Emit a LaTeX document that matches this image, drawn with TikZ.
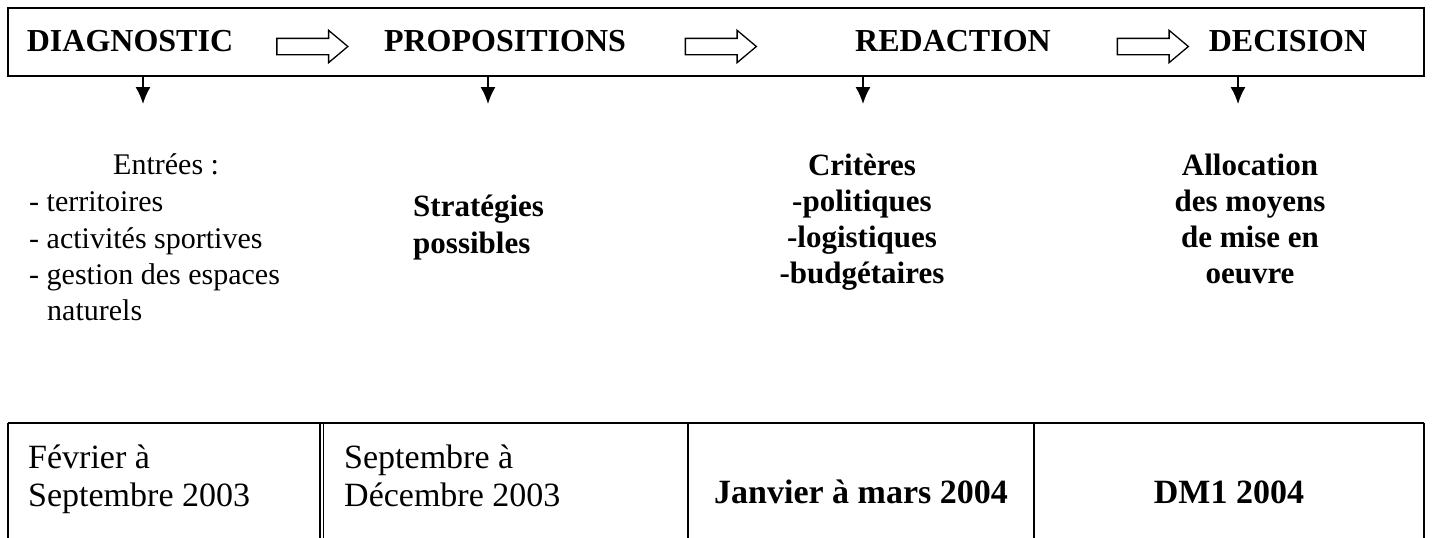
\documentclass[tikz,border=0pt]{standalone}
\usepackage{fontspec}
\setmainfont{Liberation Serif}
\usetikzlibrary{arrows.meta, shapes.arrows}

\begin{document}
\begin{tikzpicture}[x=1pt, y=-1pt,
	phase/.style={font=\fontsize{32}{38}\selectfont\bfseries, anchor=base, inner sep=0},
	entry/.style={font=\fontsize{30}{36}\selectfont, anchor=base west, inner sep=0},
	strong/.style={font=\fontsize{31}{36}\selectfont\bfseries, anchor=base, inner sep=0},
	period/.style={font=\fontsize{34}{38}\selectfont, anchor=base west, inner sep=0},
	hollow/.style={draw, line width=1.3pt, single arrow, single arrow head extend=8pt,
		minimum height=71pt, inner sep=7.5pt, single arrow tip angle=80},
	down/.style={line width=1.5pt, -{Latex[length=17pt, width=15pt]}}]

	\useasboundingbox (0,0) rectangle (1432,538);

	\node[draw, line width=1.6pt, minimum width=1416pt, minimum height=68pt, inner sep=0] (phases) at (716,42) {};

	\node[phase] (diag) at (130,51) {DIAGNOSTIC};
	\node[phase] (prop) at (505,51) {PROPOSITIONS};
	\node[phase] (redac) at (953,51) {REDACTION};
	\node[phase] (decis) at (1288,51) {DECISION};

	\node[hollow] (a1) at (307.5,46.5) {};
	\node[hollow] (a2) at (716,46.5) {};
	\node[hollow] (a3) at (1148,46.5) {};

	\coordinate (d1) at (143,104);
	\coordinate (d2) at (488,104);
	\coordinate (d3) at (863,104);
	\coordinate (d4) at (1238,104);
	\draw[down] (phases.south -| d1) -- (d1);
	\draw[down] (phases.south -| d2) -- (d2);
	\draw[down] (phases.south -| d3) -- (d3);
	\draw[down] (phases.south -| d4) -- (d4);

	% entrees
	\node[entry] (e0) at (113,174) {Entrées :};
	\node[entry] (e1) at (29,211) {- territoires};
	\node[entry] (e2) at (29,248) {- activités sportives};
	\node[entry] (e3) at (29,284) {- gestion des espaces};
	\node[entry] (e4) at (47,320) {naturels};

	\node[strong, anchor=base west] (s1) at (413,216) {Stratégies};
	\node[strong, anchor=base west] (s2) at (413,253) {possibles};

	\node[strong] (c1) at (862,175) {Critères};
	\node[strong] (c2) at (862,211) {-politiques};
	\node[strong] (c3) at (862,247) {-logistiques};
	\node[strong] (c4) at (862,283) {-budgétaires};

	\node[strong] (m1) at (1250,175) {Allocation};
	\node[strong] (m2) at (1250,211) {des moyens};
	\node[strong] (m3) at (1250,247) {de mise en};
	\node[strong] (m4) at (1250,283) {oeuvre};

	% calendrier
	\draw[line width=1.6pt] (8,423) -- (1424,423);
	\draw[line width=1.6pt] (8,423) -- (8,540);
	\draw[line width=1.3pt] (320,423) -- (320,540);
	\draw[line width=1.3pt] (323.5,423) -- (323.5,540);
	\draw[line width=1.6pt] (688,423) -- (688,540);
	\draw[line width=1.6pt] (1034,423) -- (1034,540);
	\draw[line width=1.6pt] (1424,423) -- (1424,540);

	\node[period] (p1) at (28,468) {Février à};
	\node[period] (p1b) at (28,506) {Septembre 2003};
	\node[period] (p2) at (344,468) {Septembre à};
	\node[period] (p2b) at (344,506) {Décembre 2003};
	\node[period, font=\fontsize{34}{38}\selectfont\bfseries, anchor=base] (p3) at (861,503) {Janvier à mars 2004};
	\node[period, font=\fontsize{34}{38}\selectfont\bfseries, anchor=base] (p4) at (1229,503) {DM1 2004};

\end{tikzpicture}
\end{document}
